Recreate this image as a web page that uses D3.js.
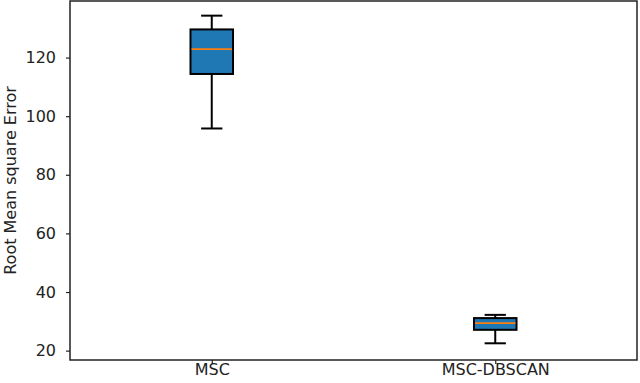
<!DOCTYPE html>
<html><head><meta charset="utf-8">
<script src="https://cdn.jsdelivr.net/npm/d3@7"></script>
<style>body{margin:0;background:#fff}svg{display:block}text{font-family:"DejaVu Sans",sans-serif;fill:#222}</style>
</head><body><svg id="c" width="640" height="383"></svg>
<script>
const categories = ["MSC", "MSC-DBSCAN"];
const whiskerLow = [95.8, 22.5];
const q1 = [114.4, 27.1];
const median = [122.9, 29.4];
const q3 = [129.6, 31.1];
const whiskerHigh = [134.3, 32.2];
const yTicks = [20, 40, 60, 80, 100, 120];

const svg = d3.select("#c");
const L = 70, R = 637, T = 1, B = 360;
const x = d3.scaleLinear().domain([0.5, 2.5]).range([L, R]);
const y = d3.scaleLinear().domain([16.8, 139.3]).range([B, T]);
const boxW = 0.15;

const yAxis = d3.axisLeft(y).tickValues(yTicks).tickSize(4).tickPadding(10);
const gy = svg.append("g").attr("transform", `translate(${L},0)`).call(yAxis);
gy.select(".domain").remove();
gy.selectAll("line").attr("stroke", "#222").attr("stroke-width", 1.2);
gy.selectAll("text").style("font-size", "16px").attr("fill", "#222");

const xAxis = d3.axisBottom(x).tickValues([1, 2]).tickFormat((d) => categories[d - 1]).tickSize(4).tickPadding(0);
const gx = svg.append("g").attr("transform", `translate(0,${B})`).call(xAxis);
gx.select(".domain").remove();
gx.selectAll("line").attr("stroke", "#222").attr("stroke-width", 1.2);
gx.selectAll("text").style("font-size", "16px").attr("fill", "#222");

svg.append("text").attr("transform", `translate(16,${(T + B) / 2}) rotate(-90)`)
  .attr("text-anchor", "middle").style("font-size", "16px").text("Root Mean square Error");

const g = svg.append("g");
categories.forEach((c, i) => {
  const p = i + 1;
  const cx = x(p), x0 = x(p - boxW / 2), x1 = x(p + boxW / 2);
  const c0 = x(p - boxW / 4), c1 = x(p + boxW / 4);
  g.append("line").attr("x1", cx).attr("x2", cx).attr("y1", y(q3[i])).attr("y2", y(whiskerHigh[i])).attr("stroke", "#000").attr("stroke-width", 2);
  g.append("line").attr("x1", cx).attr("x2", cx).attr("y1", y(q1[i])).attr("y2", y(whiskerLow[i])).attr("stroke", "#000").attr("stroke-width", 2);
  g.append("line").attr("x1", c0).attr("x2", c1).attr("y1", y(whiskerHigh[i])).attr("y2", y(whiskerHigh[i])).attr("stroke", "#000").attr("stroke-width", 2);
  g.append("line").attr("x1", c0).attr("x2", c1).attr("y1", y(whiskerLow[i])).attr("y2", y(whiskerLow[i])).attr("stroke", "#000").attr("stroke-width", 2);
  g.append("rect").attr("x", x0).attr("width", x1 - x0).attr("y", y(q3[i])).attr("height", y(q1[i]) - y(q3[i]))
    .attr("fill", "#1f77b4").attr("stroke", "#000").attr("stroke-width", 2);
  g.append("line").attr("x1", x0 + 1).attr("x2", x1 - 1).attr("y1", y(median[i])).attr("y2", y(median[i])).attr("stroke", "#ff7f0e").attr("stroke-width", 1.8);
});

svg.append("rect").attr("x", L).attr("y", T).attr("width", R - L).attr("height", B - T)
  .attr("fill", "none").attr("stroke", "#222").attr("stroke-width", 1.5);
</script></body></html>
